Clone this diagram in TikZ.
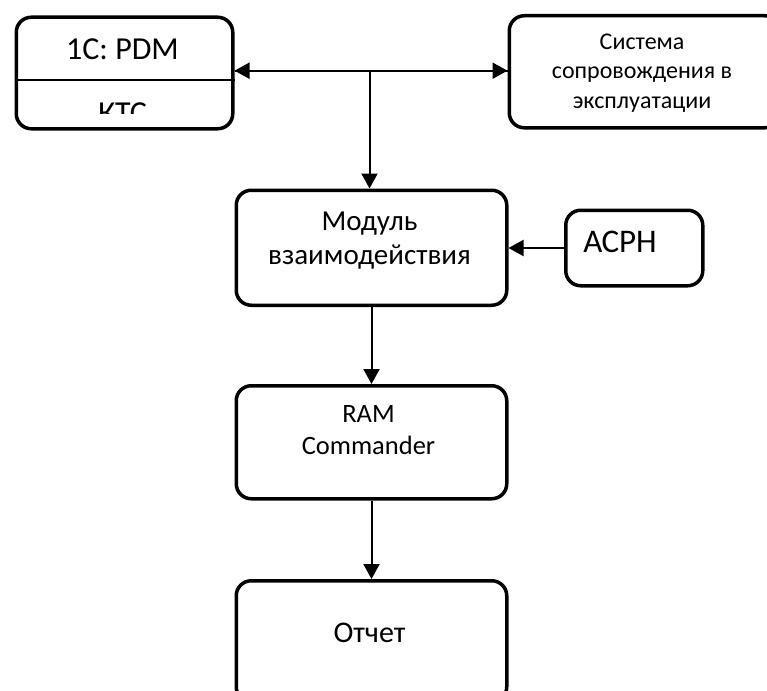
\documentclass[tikz,border=0pt]{standalone}
\usepackage{fontspec}
\setmainfont{Carlito}
\usetikzlibrary{arrows.meta}
\begin{document}
\begin{tikzpicture}[x=1pt,y=-1pt,
  block/.style={draw, line width=3.5pt, rounded corners=15pt, inner sep=0pt, anchor=north west},
  link/.style={line width=2pt, -{Triangle[length=15pt,width=16pt]}},
  lbl/.style={align=center, inner sep=0pt, anchor=base},
]
\useasboundingbox (0,0) rectangle (767,690);

% boxes
\node[block, minimum width=216.5pt, minimum height=111.5pt] (pdm) at (14.5,15.5) {};
\node[block, minimum width=270.5pt, minimum height=112pt] (sys) at (507.5,14) {};
\node[block, minimum width=270.5pt, minimum height=115pt] (mod) at (234.5,188.5) {};
\node[block, minimum width=137pt, minimum height=75.5pt] (asrn) at (564,208.5) {};
\node[block, minimum width=270.5pt, minimum height=113pt] (ram) at (234.5,384) {};
\node[block, minimum width=270.5pt, minimum height=121pt] (otch) at (234.5,579) {};

% two-part box 1C: PDM / КТС
\draw[line width=1.5pt] (pdm.west |- 0,80) -- (pdm.east |- 0,80);
\node[lbl, font=\fontsize{32}{39}\selectfont] (pdm-t) at (122.5,60) {1C: PDM};
\begin{scope}
  \clip (14.5,81) rectangle (231,113);
  \node[lbl, font=\fontsize{32}{39}\selectfont] (kts-t) at (122.5,123) {КТС};
\end{scope}

% labels (base anchor sits on the last line)
\node[lbl, font=\fontsize{24}{29.3}\selectfont] (sys-t) at (642,108)
  {Система\\сопровождения в\\эксплуатации};
\node[lbl, font=\fontsize{29}{34}\selectfont] (mod-t) at (369.5,264)
  {Модуль\\взаимодействия};
\node[lbl, font=\fontsize{33}{40}\selectfont] (asrn-t) at (620,252) {АСРН};
\node[lbl, font=\fontsize{26.5}{31.5}\selectfont] (ram-t) at (368.5,454)
  {RAM\\Commander};
\node[lbl, font=\fontsize{30}{36}\selectfont] (otch-t) at (369.5,642) {Отчет};

% connectors
\coordinate (hub) at (369.5,70.7);
\draw[line width=2pt] (hub -| pdm.east) -- (hub -| sys.west);
\draw[link] (hub) -- (hub -| pdm.east);
\draw[link] (hub) -- (hub -| sys.west);
\draw[link] (hub) -- (hub |- mod.north);
\draw[link] (asrn.west) -- (asrn.west -| mod.east);
\draw[link] (mod.south) -- (ram.north);
\draw[link] (ram.south) -- (otch.north);
\end{tikzpicture}
\end{document}
